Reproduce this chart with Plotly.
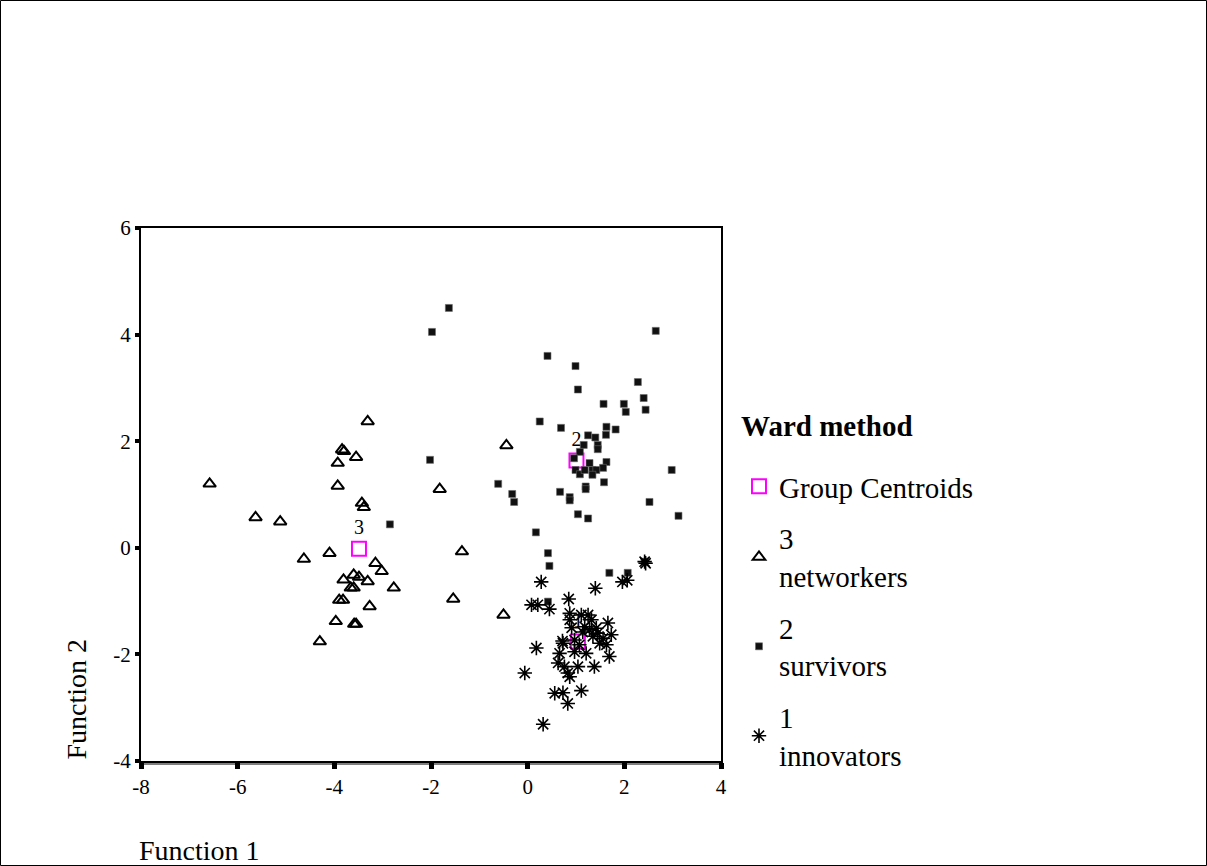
import plotly.graph_objects as go

# ---- data ----
networkers_x = [-3.31, -3.84, -3.80, -3.55, -3.93, -6.58, -3.93, -1.82, -3.43, -3.39, -5.63, -5.12,
                -1.36, -4.10, -4.63, -3.15, -3.02, -3.60, -3.81, -3.49, -3.31, -3.66, -3.60, -2.77,
                -3.90, -3.82, -1.54, -3.27, -3.97, -3.59, -3.55, -4.30, -0.44, -0.50]
networkers_y = [2.37, 1.84, 1.81, 1.70, 1.59, 1.20, 1.16, 1.10, 0.84, 0.76, 0.57, 0.49,
                -0.07, -0.10, -0.21, -0.29, -0.44, -0.51, -0.60, -0.55, -0.63, -0.75, -0.75, -0.75,
                -0.98, -0.98, -0.96, -1.10, -1.38, -1.43, -1.43, -1.76, 1.92, -1.26]

survivors_x = [-1.63, -1.98, 2.65, 0.41, 0.99, 2.28, 1.04, 2.40, 1.57, 1.99, 2.03, 2.44,
               0.25, 0.69, 1.63, 1.82, 1.62, 1.25, 1.40, 1.16, 1.45, 1.45, 1.08, -2.02,
               0.96, 1.28, 1.63, 1.56, 1.34, 1.42, 0.99, 1.08, 1.34, 2.98, 1.58, 1.20,
               1.20, -0.61, -0.32, -0.28, 0.67, 0.87, 0.87, 2.52, 3.12, 1.04, 1.25, 0.17,
               -2.85, 0.42, 0.45, 0.42, 1.69, 2.07, 2.42, 1.18]
survivors_y = [4.50, 4.05, 4.07, 3.60, 3.41, 3.11, 2.97, 2.81, 2.70, 2.70, 2.55, 2.59,
               2.37, 2.25, 2.27, 2.22, 2.12, 2.11, 2.07, 1.93, 1.93, 1.85, 1.80, 1.65,
               1.68, 1.59, 1.61, 1.50, 1.46, 1.46, 1.46, 1.38, 1.37, 1.46, 1.23, 1.15,
               1.10, 1.20, 1.01, 0.86, 1.05, 0.95, 0.89, 0.86, 0.60, 0.63, 0.55, 0.29,
               0.44, -0.10, -0.34, -1.01, -0.47, -0.47, -0.26, 1.46]

innovators_x = [0.28, 0.85, 1.40, 1.96, 2.06, 2.42, 2.44, 0.08, 0.21, 0.45, 0.87, 0.87,
                1.11, 1.25, 1.32, 1.18, 1.42, 1.66, 1.73, 1.56, 1.35, 1.49, 1.63, 0.73,
                1.07, 0.97, 1.21, 0.66, 1.69, 1.04, 0.76, 1.38, 0.18, 0.97, -0.06, 0.83,
                0.87, 0.56, 0.73, 1.11, 0.83, 0.32, 1.14, 1.28, 0.63, 0.72, 1.45, 0.91]
innovators_y = [-0.64, -0.96, -0.76, -0.64, -0.61, -0.26, -0.29, -1.07, -1.07, -1.15, -1.23, -1.35,
                -1.26, -1.26, -1.35, -1.48, -1.51, -1.41, -1.63, -1.70, -1.66, -1.79, -1.82, -1.79,
                -1.82, -1.95, -1.98, -1.98, -2.04, -2.23, -2.23, -2.23, -1.88, -1.73, -2.35, -2.35,
                -2.42, -2.73, -2.72, -2.68, -2.92, -3.31, -1.58, -1.54, -2.16, -1.75, -1.60, -1.50]

centroid_x = [-3.49, 1.01, 1.04]
centroid_y = [-0.02, 1.64, -1.76]
centroid_labels = ["3", "2", "1"]

x_ticks = [-8, -6, -4, -2, 0, 2, 4]
y_ticks = [-4, -2, 0, 2, 4, 6]

FONT = "Liberation Serif"

# ---- page geometry ----
W, H = 1207, 866
L, R, T, B = 141, 1207 - 721, 228, 866 - 761
PW, PH = W - L - R, H - T - B


def px(xp):
    return (xp - L) / PW


def py(yp):
    return (H - B - yp) / PH


fig = go.Figure()

fig.add_trace(go.Scatter(
    x=centroid_x, y=centroid_y, mode="markers+text", name="Group Centroids",
    text=centroid_labels, textposition="top center",
    textfont=dict(family=FONT, size=20, color="black"),
    marker=dict(symbol="square-open", size=14, color="#FF00FF", line=dict(width=2, color="#FF00FF")),
    legendrank=1, legendgroup="c"))

fig.add_trace(go.Scatter(
    x=networkers_x, y=networkers_y, mode="markers", name="3<br>networkers",
    marker=dict(symbol="triangle-up-open", size=11, color="black", line=dict(width=2, color="black")),
    legendrank=2, legendgroup="n"))

fig.add_trace(go.Scatter(
    x=survivors_x, y=survivors_y, mode="markers", name="2<br>survivors",
    marker=dict(symbol="square", size=7, color="#111111", line=dict(width=0.6, color="#666666")),
    legendrank=3, legendgroup="s"))

fig.add_trace(go.Scatter(
    x=innovators_x, y=innovators_y, mode="markers", name="1<br>innovators",
    marker=dict(symbol="asterisk-open", size=12, color="black", line=dict(width=1.6, color="black")),
    legendrank=4, legendgroup="i"))

fig.update_layout(
    width=W, height=H,
    margin=dict(l=L, r=R, t=T, b=B, pad=0),
    paper_bgcolor="white", plot_bgcolor="white",
    font=dict(family=FONT, color="black", size=21),
    showlegend=True,
    legend=dict(
        x=px(739), y=py(461), xanchor="left", yanchor="top",
        font=dict(family=FONT, size=29, color="black"),
        tracegroupgap=11, bgcolor="rgba(0,0,0,0)", itemsizing="trace",
    ),
    xaxis=dict(range=[-8, 4], tickvals=x_ticks, ticktext=[str(v) for v in x_ticks],
               showgrid=False, zeroline=False, showline=True, linecolor="black", linewidth=2,
               mirror=True, ticks="outside", ticklen=6, tickwidth=5, tickcolor="black",
               tickfont=dict(family=FONT, size=21, color="black")),
    yaxis=dict(range=[-4, 6], tickvals=y_ticks, ticktext=[str(v) for v in y_ticks],
               showgrid=False, zeroline=False, showline=True, linecolor="black", linewidth=2,
               mirror=True, ticks="outside", ticklen=4, tickwidth=4, tickcolor="black",
               tickfont=dict(family=FONT, size=21, color="black")),
    annotations=[
        dict(text="<b>Ward method</b>", xref="paper", yref="paper", x=px(739), y=py(426),
             xanchor="left", yanchor="middle", showarrow=False,
             font=dict(family=FONT, size=29, color="black")),
        dict(text="Function 2", xref="paper", yref="paper", x=px(76), y=py(762),
             xanchor="center", yanchor="bottom", textangle=-90, showarrow=False,
             font=dict(family=FONT, size=28, color="black")),
        dict(text="Function 1", xref="paper", yref="paper", x=px(137), y=py(850),
             xanchor="left", yanchor="middle", showarrow=False,
             font=dict(family=FONT, size=28, color="black")),
    ],
    shapes=[
        dict(type="rect", xref="paper", yref="paper", x0=px(0.5), x1=px(1206.5), y0=py(865.5), y1=py(0.5),
             line=dict(color="black", width=1), layer="below"),
        dict(type="line", xref="paper", yref="paper", x0=0, x1=1, y0=py(764), y1=py(764),
             line=dict(color="black", width=1)),
    ],
)

fig.write_html("out.html")
